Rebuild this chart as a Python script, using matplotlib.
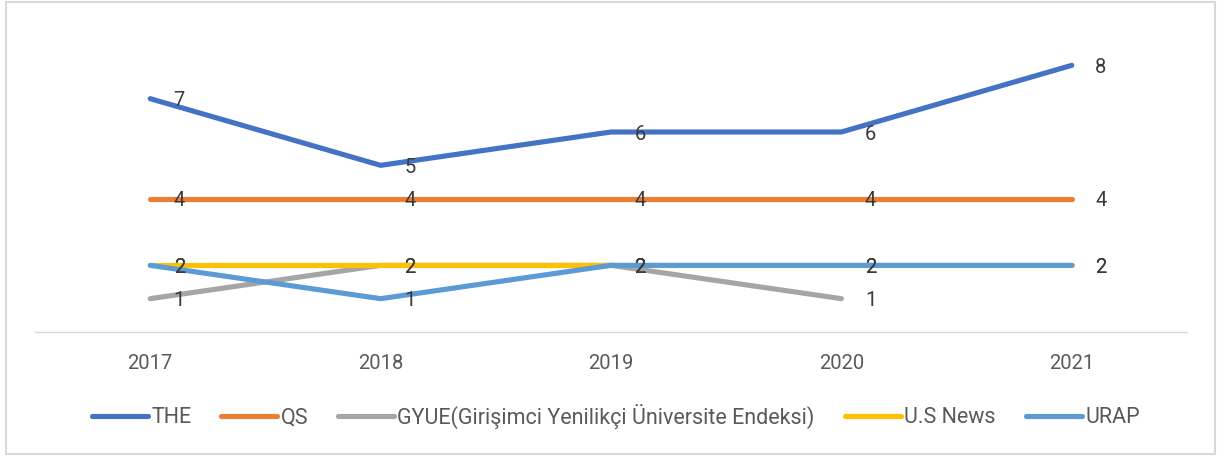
import matplotlib.pyplot as plt
from matplotlib.patches import Rectangle

plt.rcParams['font.family'] = ['Roboto', 'DejaVu Sans']

# data
years = ["2017", "2018", "2019", "2020", "2021"]
the = [7, 5, 6, 6, 8]
qs = [4, 4, 4, 4, 4]
gyue = [1, 2, 2, 1, None]
usnews = [2, 2, 2, 2, 2]
urap = [2, 1, 2, 2, 2]

series = [
    ("THE", the, "#4472C4"),
    ("QS", qs, "#ED7D31"),
    ("GYUE(Girişimci Yenilikçi Üniversite Endeksi)", gyue, "#A5A5A5"),
    ("U.S News", usnews, "#FFC000"),
    ("URAP", urap, "#5B9BD5"),
]

W, H = 1217, 458
fig = plt.figure(figsize=(W / 100, H / 100), dpi=100)
# outer chart border like excel
fig.patches.append(Rectangle((6 / W, 4 / H), 1209 / W, 452 / H, transform=fig.transFigure,
                             fill=False, edgecolor="#D9D9D9", linewidth=1.5))

ax = fig.add_axes([35 / W, 126 / H, 1152 / W, 300 / H])
x = list(range(len(years)))

for name, vals, col in series:
    xs = [i for i, v in zip(x, vals) if v is not None]
    ys = [v for v in vals if v is not None]
    ax.plot(xs, ys, color=col, lw=3.7, solid_capstyle="round", solid_joinstyle="round", label=name)

# data labels to the right of every point
for name, vals, col in series:
    for i, v in zip(x, vals):
        if v is None:
            continue
        ax.annotate(str(v), (i, v), xytext=(21, -1.5), textcoords="offset points",
                    ha="center", va="center", fontsize=14.5, color="#3A3A3A")

ax.set_xlim(-0.5, 4.5)
ax.set_ylim(0, 9)
ax.set_xticks(x)
ax.set_xticklabels(years, fontsize=14.5, color="#595959")
ax.tick_params(axis="x", length=0, pad=16)
ax.set_yticks([])
for s in ["top", "right", "left"]:
    ax.spines[s].set_visible(False)
ax.spines["bottom"].set_color("#D9D9D9")
ax.spines["bottom"].set_linewidth(1)

leg = fig.legend(loc="center", bbox_to_anchor=(0.506, 1 - 416 / H), ncol=5, frameon=False,
                 fontsize=15.5, handlelength=2.6, handletextpad=0.15, columnspacing=1.4,
                 labelcolor="#595959")
for h in leg.get_lines():
    h.set_solid_capstyle("round")
    h.set_linewidth(3.7)

fig.savefig("out.png", dpi=100)
